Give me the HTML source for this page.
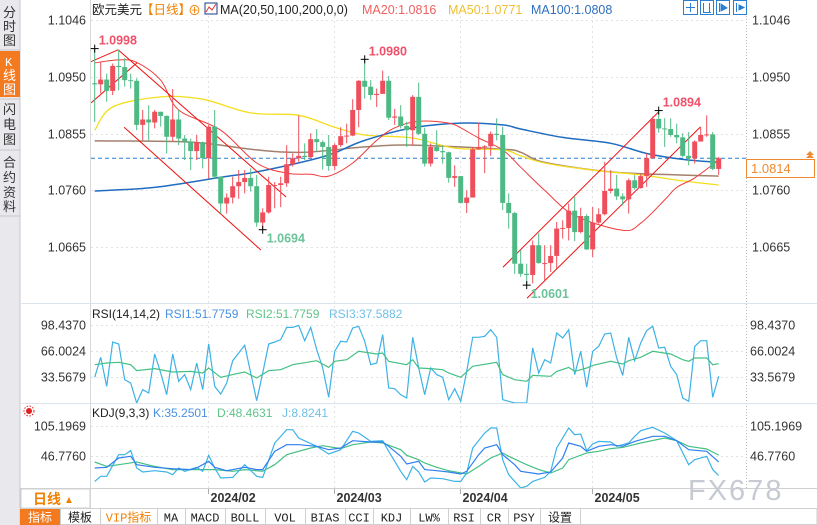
<!DOCTYPE html>
<html><head><meta charset="utf-8">
<style>
html,body{margin:0;padding:0;background:#fff;}
body{width:817px;height:525px;overflow:hidden;position:relative;font-family:"Liberation Sans","Noto Sans CJK SC",sans-serif;}
svg{position:absolute;left:0;top:0;}
text{font-family:"Liberation Sans","Noto Sans CJK SC",sans-serif;}
.mono{font-family:"Liberation Mono","Noto Sans CJK SC",monospace;}
</style></head>
<body>
<svg id="chart" width="817" height="525" viewBox="0 0 817 525" xmlns="http://www.w3.org/2000/svg">
<defs>
<clipPath id="clipPrice"><rect x="91" y="16" width="655" height="287"/></clipPath>
<clipPath id="clipRsi"><rect x="91" y="320" width="655" height="83"/></clipPath>
<clipPath id="clipKdj"><rect x="91" y="418" width="655" height="70"/></clipPath>
</defs>
<!-- sidebar -->
<g>
<rect x="0" y="0" width="20" height="525" fill="#e9e9ed"/>
<line x1="20" y1="0" x2="20" y2="508" stroke="#c8c8cc"/>
<g font-size="13" fill="#333">
<text x="3" y="17">分</text><text x="3" y="31">时</text><text x="3" y="45">图</text></g>
<line x1="0" y1="50" x2="20" y2="50" stroke="#c8c8cc"/>
<g>
<rect x="0" y="51" width="20" height="46" fill="#f47a20"/>
<text x="5" y="66" font-size="12" fill="#fff" class="mono">K</text>
<text x="3" y="80" font-size="13" fill="#fff">线</text><text x="3" y="94" font-size="13" fill="#fff">图</text></g>
<line x1="0" y1="99" x2="20" y2="99" stroke="#c8c8cc"/>
<g font-size="13" fill="#333">
<text x="3" y="114">闪</text><text x="3" y="129">电</text><text x="3" y="144">图</text></g>
<line x1="0" y1="150" x2="20" y2="150" stroke="#c8c8cc"/>
<g font-size="13" fill="#333">
<text x="3" y="167">合</text><text x="3" y="182">约</text><text x="3" y="197">资</text><text x="3" y="211">料</text></g>
<line x1="0" y1="216" x2="20" y2="216" stroke="#c8c8cc"/>
</g>
<!-- frame -->
<line x1="90.5" y1="0" x2="90.5" y2="508" stroke="#d8d8d8"/>
<line x1="746.5" y1="16" x2="746.5" y2="488" stroke="#bbb" stroke-dasharray="1,2"/>
<line x1="20" y1="303.5" x2="817" y2="303.5" stroke="#dde3ea"/>
<line x1="20" y1="403.5" x2="817" y2="403.5" stroke="#dde3ea"/>
<line x1="20" y1="488.5" x2="817" y2="488.5" stroke="#d0d0d0"/>
<g id="grid"></g>
<!-- header -->
<g font-size="12.5">
<text x="92" y="14" fill="#222">欧元美元</text>
<text x="141" y="14" fill="#f08000">【日线】</text>
<text x="188" y="15" fill="#f08000" font-size="13">⊕</text>
<g><rect x="205" y="3" width="12" height="11" fill="#fff" stroke="#1a3a8a"/><polyline points="206,12 209,7 212,10 216,4" fill="none" stroke="#e03030"/></g>
<text x="220" y="14" fill="#222">MA(20,50,100,200,0,0)</text>
<text x="362" y="14" fill="#f06060">MA20:1.0816</text>
<text x="448" y="14" fill="#f0c030">MA50:1.0771</text>
<text x="531" y="14" fill="#2f6fc0">MA100:1.0808</text>
</g>
<g fill="none" stroke="#2a7fd0">
<rect x="683.5" y="0.5" width="14" height="14"/><line x1="690.5" y1="3" x2="690.5" y2="12"/><line x1="686" y1="7.5" x2="695" y2="7.5"/>
<rect x="700.5" y="0.5" width="13" height="14"/><line x1="703.5" y1="3" x2="703.5" y2="12"/><line x1="709.5" y1="3" x2="709.5" y2="12"/><line x1="703" y1="12.5" x2="711" y2="12.5"/>
<rect x="716.5" y="0.5" width="13" height="14"/><line x1="719.5" y1="3" x2="719.5" y2="12"/><polygon points="721,4 727,8 721,11" fill="#2a7fd0"/>
<rect x="733.5" y="0.5" width="13" height="14"/><line x1="736.5" y1="3" x2="736.5" y2="12"/><polygon points="739,5 744,7.5 739,10" fill="#2a7fd0"/>
</g>
<g id="price"></g>
<g id="rsi"></g>
<g id="kdj"></g>
<g id="axes"></g>
<!-- RSI header -->
<g font-size="12">
<text x="92" y="318" fill="#222">RSI(14,14,2)</text>
<text x="165" y="318" fill="#4a90e2">RSI1:51.7759</text>
<text x="246" y="318" fill="#5fc48a">RSI2:51.7759</text>
<text x="329" y="318" fill="#70c0e8">RSI3:37.5882</text>
</g>
<g font-size="12">
<text x="92" y="417" fill="#222">KDJ(9,3,3)</text>
<text x="153" y="417" fill="#4a90e2">K:35.2501</text>
<text x="217" y="417" fill="#5fc48a">D:48.4631</text>
<text x="282" y="417" fill="#70c0e8">J:8.8241</text>
</g>
<g>
<circle cx="29" cy="411" r="3" fill="#e02020"/><circle cx="29" cy="411" r="5" fill="none" stroke="#e02020" stroke-dasharray="1.5,1.5"/>
</g>
<!-- current price -->
<g>
<rect x="746.5" y="159.5" width="68" height="18" fill="#fff" stroke="#f08a30"/>
<text x="751" y="173" font-size="13" fill="#f08a30">1.0814</text>
<polygon points="806,155 810,151 814,155" fill="#f08a30"/><polygon points="806,158 810,154 814,158" fill="#f08a30"/>
</g>
<!-- period -->
<g>
<rect x="21" y="489" width="69" height="19" fill="#fff" stroke="#d0d0d0"/>
<text x="33" y="504" font-size="14" font-weight="bold" fill="#f08000">日线</text>
<text x="64" y="503" font-size="10" fill="#f08000">▲</text>
</g>
<!-- bottom toolbar -->
<g id="toolbar"></g>
<text x="688" y="500" font-size="29" fill="#c5cad3" letter-spacing="2">FX678</text>
</svg>
<script>
// ---------- DATA ----------
const firstOpen = 1.0940;
const closes = [1.0938,1.0946,1.0927,1.0969,1.0967,1.0945,1.0944,1.0870,1.0879,1.0874,1.0892,1.0885,1.0850,1.0879,1.0847,1.0842,1.0826,1.0841,1.0814,1.0867,1.0783,1.0738,1.0748,1.0767,1.0774,1.0781,1.0767,1.0706,1.0723,1.0769,1.0769,1.0772,1.0804,1.0814,1.0818,1.0816,
1.0846,1.0841,1.0833,1.0801,1.0836,1.0851,1.0852,1.0895,1.0944,1.0934,1.0920,1.0922,1.0944,1.0882,1.0884,1.0868,1.0861,1.0917,1.0855,1.0805,1.0833,1.0826,1.0824,1.0781,1.0784,1.0739,1.0748,1.0829,1.0833,1.0834,1.0855,1.0853,1.0739,1.0722,1.0637,
1.0620,1.0618,1.0668,1.0638,1.0638,1.0650,1.0696,1.0697,1.0726,1.0690,1.0717,1.0661,1.0706,1.0720,1.0759,1.0763,1.0750,1.0745,1.0777,1.0764,1.0784,1.0814,1.0880,1.0864,1.0863,1.0853,1.0849,1.0818,1.0814,1.0842,1.0853,1.0854,1.0796,1.0814];
const highs = [1.0998,1.0976,1.0956,1.0973,1.0996,1.0982,1.0956,1.0948,1.0895,1.0903,1.0895,1.0889,1.0886,1.0930,1.0895,1.0853,1.0847,1.0853,1.0842,1.0870,1.0895,1.0783,1.0755,1.0783,1.0794,1.0794,1.0797,1.0786,1.0730,1.0783,1.0774,1.0783,1.0836,1.0822,1.0886,1.0839,
1.0856,1.0863,1.0844,1.0853,1.0839,1.0866,1.0872,1.0913,1.0945,1.0980,1.0945,1.0931,1.0961,1.0952,1.0897,1.0903,1.0875,1.0920,1.0941,1.0865,1.0839,1.0861,1.0836,1.0825,1.0802,1.0783,1.0760,1.0833,1.0874,1.0836,1.0859,1.0881,1.0867,1.0755,1.0724,
1.0660,1.0637,1.0676,1.0688,1.0668,1.0668,1.0707,1.0710,1.0738,1.0749,1.0731,1.0720,1.0732,1.0730,1.0808,1.0794,1.0786,1.0755,1.0780,1.0786,1.0788,1.0822,1.0884,1.0894,1.0881,1.0881,1.0872,1.0856,1.0858,1.0844,1.0867,1.0886,1.0858,1.0816];
const lows = [1.0875,1.0923,1.0909,1.0920,1.0928,1.0934,1.0931,1.0861,1.0844,1.0844,1.0864,1.0867,1.0822,1.0842,1.0836,1.0811,1.0794,1.0811,1.0797,1.0780,1.0780,1.0721,1.0721,1.0738,1.0746,1.0755,1.0758,1.0699,1.0694,1.0721,1.0730,1.0732,1.0766,1.0800,1.0808,1.0811,
1.0814,1.0825,1.0795,1.0793,1.0794,1.0833,1.0839,1.0851,1.0866,1.0914,1.0912,1.0900,1.0922,1.0878,1.0870,1.0864,1.0833,1.0836,1.0853,1.0800,1.0800,1.0825,1.0805,1.0773,1.0766,1.0738,1.0722,1.0760,1.0828,1.0789,1.0818,1.0844,1.0727,1.0696,1.0620,
1.0615,1.0601,1.0604,1.0637,1.0609,1.0623,1.0629,1.0679,1.0676,1.0675,1.0688,1.0660,1.0648,1.0704,1.0718,1.0755,1.0744,1.0735,1.0721,1.0761,1.0763,1.0766,1.0814,1.0857,1.0833,1.0850,1.0839,1.0816,1.0802,1.0805,1.0842,1.0850,1.0794,1.0786];

const ma20Idx = [0,4,7,11,14,21,27,32,36,39,43,47,50,54,59,61,64,68,71,75,80,88,91,95,97,100,104];
const ma20 = [1.0974,1.0979,1.0975,1.0945,1.0895,1.0861,1.0806,1.0789,1.0787,1.0784,1.0806,1.0844,1.0865,1.0876,1.0873,1.0865,1.0848,1.0828,1.0799,1.0760,1.0718,1.0693,1.0705,1.0744,1.0765,1.0781,1.0811];
const ma50Idx = [0,3,11,18,26,34,40,45,53,60,68,71,75,83,91,98,104];
const ma50 = [1.0861,1.0900,1.0917,1.0913,1.0890,1.0886,1.0866,1.0853,1.0848,1.0831,1.0828,1.0818,1.0806,1.0794,1.0786,1.0776,1.0769];
const ma100Idx = [0,10,21,27,36,40,45,53,61,68,71,78,86,92,98,104];
const ma100 = [1.0759,1.0765,1.0782,1.0791,1.0811,1.0823,1.0844,1.0865,1.0873,1.0870,1.0863,1.0849,1.0839,1.0822,1.0812,1.0807];
const ma200Idx = [0,16,27,35,45,53,68,71,75,86,97,104];
const ma200 = [1.0843,1.0841,1.0828,1.0824,1.0833,1.0836,1.0829,1.0824,1.0807,1.0791,1.0786,1.0784];

const lastPrice = 1.0814;
const priceTicks = [1.1046,1.0950,1.0855,1.0760,1.0665];
const priceTickLabels = ["1.1046","1.0950","1.0855","1.0760","1.0665"];
const rsiTicks = [98.437,66.0024,33.5679];
const rsiTickLabels = ["98.4370","66.0024","33.5679"];
const kdjTicks = [105.1969,46.776];
const kdjTickLabels = ["105.1969","46.7760"];
const monthIdx = [19,40,61,83];
const monthLabels = ["2024/02","2024/03","2024/04","2024/05"];

const rsiFast = [33.2,58.1,21.9,77.2,74.7,30.2,26.1,1.1,17.8,13.6,62.3,38.6,11.5,62.3,28.2,36.5,17.8,51.0,17.8,74.7,21.9,12.4,26.1,53.9,63.5,73.1,38.6,4.0,38.6,74.7,77.2,80.1,95.5,95.5,98.0,78.9,95.5,67.7,44.8,8.2,65.6,78.1,77.2,94.7,96.8,78.1,48.9,51.0,86.4,19.9,19.0,11.5,7.4,83.1,44.8,
11.5,44.8,36.5,33.2,5.3,19.0,3.2,40.6,83.1,83.1,84.3,92.6,83.1,5.3,3.2,1.1,1.1,1.1,69.8,38.6,55.2,51.0,88.5,82.2,92.6,36.5,65.6,20.7,65.6,71.8,87.2,88.5,57.3,35.6,83.1,53.9,76.0,91.4,96.8,69.8,70.6,46.9,36.5,7.4,3.2,71.8,78.9,78.9,8.2,34.4];
const rsiSlowIdx = [0,2,4,6,7,10,13,16,18,19,21,23,25,27,29,31,33,37,39,40,42,44,47,48,49,52,53,54,56,58,59,61,63,67,68,70,72,73,76,77,79,80,82,83,86,88,89,91,93,96,98,99,100,102,103,104];
const rsiSlow = [48.9,51.0,51.9,48.9,41.5,44.0,39.8,40.6,38.6,44.8,33.2,36.5,39.8,32.3,41.5,42.7,48.9,53.9,45.6,53.1,55.2,65.6,62.3,63.5,53.1,48.9,55.2,44.8,44.0,42.7,38.6,33.2,46.9,51.9,36.5,30.2,28.2,35.6,34.4,40.6,45.6,40.6,44.8,48.1,53.1,49.8,53.9,58.1,65.6,62.3,55.2,53.1,57.3,57.3,48.9,50.2];

const kIdx = [0,2,4,6,7,10,13,16,17,19,20,22,25,27,28,30,32,34,37,39,41,43,46,48,49,51,52,54,55,57,59,61,62,64,65,67,68,70,71,74,76,78,79,81,82,84,86,88,90,93,95,97,99,102,104];
const kVals = [23.4,24.7,42.9,46.1,29.9,24.7,22.1,20.2,23.4,36.4,24.7,18.2,24.7,20.2,20.2,55.9,68.8,68.8,65.6,59.1,62.4,76.6,74.0,74.0,65.6,46.1,31.2,36.4,20.2,18.2,15.6,11.7,16.9,49.4,62.3,68.8,49.4,29.9,16.9,11.7,15.6,42.9,72.1,65.6,55.9,65.6,68.8,65.6,75.3,85.1,85.1,76.6,59.1,55.9,35.3];
const dIdx = [0,2,4,7,10,13,17,20,23,25,28,30,32,36,38,41,43,46,48,51,52,54,55,57,59,62,64,66,68,69,72,74,76,78,79,82,84,86,88,91,95,97,99,102,104];
const dVals = [35.1,26.6,29.9,35.1,26.6,20.2,20.2,20.2,16.9,20.2,16.9,29.9,49.4,62.4,66.9,61.1,68.8,74.0,72.1,59.1,48.1,39.6,33.1,24.7,18.2,11.7,26.6,42.9,52.6,46.1,29.9,20.2,13.7,23.4,39.6,52.6,55.9,61.1,63.6,72.1,81.8,76.6,65.6,60.4,48.5];
const jIdx = [0,1,2,4,5,6,7,8,10,12,13,14,15,17,18,19,20,21,23,25,27,28,30,32,33,34,37,39,41,43,44,46,48,49,51,52,53,54,55,56,58,60,61,62,63,65,66,67,68,69,71,72,73,75,76,77,79,80,81,82,83,84,86,87,89,90,91,93,95,97,99,100,102,103,104];
const jVals = [-2.6,7.2,7.2,49.4,49.4,57.2,23.4,15.6,18.2,15.6,10.4,23.4,16.9,24.7,16.9,48.1,23.4,3.9,5.2,29.9,7.2,5.2,72.1,98.0,98.0,81.8,65.6,50.7,59.1,94.8,91.6,75.3,76.6,55.9,16.9,0.7,26.6,15.6,-3.9,3.9,2.6,-2.6,-2.6,13.7,62.3,91.6,101.3,101.3,39.6,10.4,-15.5,-12.3,-2.6,5.2,16.9,62.3,101.3,88.3,89.6,57.2,70.1,75.3,74.0,65.6,72.1,85.1,96.1,102.6,91.6,76.6,29.9,39.6,46.1,20.2,8.8];

// trend lines (candle index, price)
const trendLines = [
 [[-1.1,1.0974],[3.9,1.0996]],
 [[-0.6,1.0907],[7.05,1.0974]],
 [[3.9,1.0996],[31.9,1.0749]],
 [[4.9,1.0866],[27.7,1.0660]],
 [[68.05,1.0631],[93.9,1.0891]],
 [[72.05,1.0579],[100.9,1.0866]]
];
const extremes = [
 {i:0, p:1.0998, label:"1.0998", kind:"high"},
 {i:45, p:1.0980, label:"1.0980", kind:"high"},
 {i:28, p:1.0694, label:"1.0694", kind:"low"},
 {i:72, p:1.0601, label:"1.0601", kind:"low"},
 {i:94, p:1.0894, label:"1.0894", kind:"high"}
];
const toolbarItems = ["指标","模板","VIP指标","MA","MACD","BOLL","VOL","BIAS","CCI","KDJ","LW%","RSI","CR","PSY","设置"];

// ---------- AXES ----------
const NS = "http://www.w3.org/2000/svg";
function xOf(i){ return 94.7 + 6*i; }
function yPrice(p){ return 20 + (1.1046 - p)*5958; }
function yRsi(v){ return 325 + (98.437 - v)/1.2475; }
function yKdj(v){ return 426 + (105.1969 - v)/1.9473; }
function mk(tag, attrs, parent){ const e=document.createElementNS(NS,tag); for(const k in attrs) e.setAttribute(k, attrs[k]); parent.appendChild(e); return e; }
function smoothPath(pts){
  if(pts.length<2) return "";
  let d="M"+pts[0][0].toFixed(1)+","+pts[0][1].toFixed(1);
  for(let k=0;k<pts.length-1;k++){
    const p0=pts[k-1]||pts[k], p1=pts[k], p2=pts[k+1], p3=pts[k+2]||p2;
    const c1=[p1[0]+(p2[0]-p0[0])/6, p1[1]+(p2[1]-p0[1])/6];
    const c2=[p2[0]-(p3[0]-p1[0])/6, p2[1]-(p3[1]-p1[1])/6];
    d+=" C"+c1[0].toFixed(1)+","+c1[1].toFixed(1)+" "+c2[0].toFixed(1)+","+c2[1].toFixed(1)+" "+p2[0].toFixed(1)+","+p2[1].toFixed(1);
  }
  return d;
}
function linePath(pts){ return pts.map((p,k)=>(k?"L":"M")+p[0].toFixed(1)+","+p[1].toFixed(1)).join(" "); }

const grid = document.getElementById("grid");
const axes = document.getElementById("axes");
const priceG = document.getElementById("price");
const rsiG = document.getElementById("rsi");
const kdjG = document.getElementById("kdj");

// grid
priceTicks.forEach((t,k)=>{
  const y=Math.round(yPrice(t))+0.5;
  const g=mk("line",{x1:91,y1:y,x2:746,y2:y,stroke:"#e2e2e2","stroke-dasharray":"2,3"},grid);
  
  
  const l=mk("text",{x:86,y:y+4,"font-size":12.5,fill:"#333","text-anchor":"end"},axes);
  l.textContent=priceTickLabels[k];
  
  
  const r=mk("text",{x:752,y:y+4,"font-size":12.5,fill:"#333"},axes);
  r.textContent=priceTickLabels[k];
  
  
});
rsiTicks.forEach((t,k)=>{
  const y=Math.round(yRsi(t))+0.5;
  const g=mk("line",{x1:91,y1:y,x2:746,y2:y,stroke:"#e2e2e2","stroke-dasharray":"2,3"},grid);
  
  
  const l=mk("text",{x:86,y:y+4,"font-size":12.5,fill:"#333","text-anchor":"end"},axes);
  l.textContent=rsiTickLabels[k];
  
  
  const r=mk("text",{x:750,y:y+4,"font-size":12.5,fill:"#333"},axes);
  r.textContent=rsiTickLabels[k];
  
  
});
kdjTicks.forEach((t,k)=>{
  const y=Math.round(yKdj(t))+0.5;
  const g=mk("line",{x1:91,y1:y,x2:746,y2:y,stroke:"#e2e2e2","stroke-dasharray":"2,3"},grid);
  
  
  const l=mk("text",{x:86,y:y+4,"font-size":12.5,fill:"#333","text-anchor":"end"},axes);
  l.textContent=kdjTickLabels[k];
  
  
  const r=mk("text",{x:750,y:y+4,"font-size":12.5,fill:"#333"},axes);
  r.textContent=kdjTickLabels[k];
  
  
});
monthIdx.forEach((mi,k)=>{
  const x=Math.round(xOf(mi)-1)+0.5;
  const g=mk("line",{x1:x,y1:16,x2:x,y2:488,stroke:"#e2e2e2","stroke-dasharray":"2,3"},grid);
  
  
  const tk=mk("line",{x1:x,y1:489,x2:x,y2:494,stroke:"#aaa"},axes);
  
  
  const t=mk("text",{x:x+2,y:502,"font-size":12.5,"font-weight":"bold",fill:"#333"},axes);
  t.textContent=monthLabels[k];
  
  
});

// current price dashed line
const dl=mk("line",{x1:91,y1:yPrice(lastPrice),x2:746,y2:yPrice(lastPrice),stroke:"#2a7fd0","stroke-dasharray":"4,3"},priceG);



// MA lines
const pc = mk("g",{"clip-path":"url(#clipPrice)"},priceG);
function drawMA(idx, vals, color, w, name){
  const n=Math.min(idx.length, vals.length);
  const pts=[]; for(let k=0;k<n;k++) pts.push([xOf(idx[k]), yPrice(vals[k])]);
  const p=mk("path",{d:smoothPath(pts),fill:"none",stroke:color,"stroke-width":w},pc);
  
  
}
drawMA(ma200Idx, ma200, "#a3806c", 1.5, "ma200-line");
drawMA(ma50Idx, ma50, "#f5de1e", 1.3, "ma50-line");
drawMA(ma100Idx, ma100, "#1f6cc0", 1.5, "ma100-line");
drawMA(ma20Idx, ma20, "#f03a3a", 1, "ma20-line");

// trend lines
trendLines.forEach(tl=>{
  const l=mk("line",{x1:xOf(tl[0][0]),y1:yPrice(tl[0][1]),x2:xOf(tl[1][0]),y2:yPrice(tl[1][1]),stroke:"#ee1111","stroke-width":1},pc);
  
  
});

// candles
for(let i=0;i<closes.length;i++){
  const o = i===0 ? firstOpen : closes[i-1];
  const c = closes[i];
  const h = Math.max(highs[i], o, c), lo = Math.min(lows[i], o, c);
  const up = c >= o;
  const col = up ? "#ef4f5c" : "#4fb985";
  const x = xOf(i);
  const g = mk("g",{},pc);
  
  
  mk("line",{x1:x,y1:yPrice(h),x2:x,y2:yPrice(lo),stroke:col,"stroke-width":1},g);
  const yt=yPrice(Math.max(o,c)), yb=yPrice(Math.min(o,c));
  mk("rect",{x:x-2.5,y:yt,width:5,height:Math.max(1,yb-yt),fill:col},g);
}

// extremes
extremes.forEach(e=>{
  const x=xOf(e.i), y=yPrice(e.p);
  const g=mk("g",{},priceG);
  
  
  mk("line",{x1:x-4,y1:y,x2:x+4,y2:y,stroke:"#000"},g);
  mk("line",{x1:x,y1:y-4,x2:x,y2:y+4,stroke:"#000"},g);
  const t=mk("text",{x:x+4, y: e.kind==="high" ? y-4 : y+13, "font-size":12.5,"font-weight":"bold",fill: e.kind==="high" ? "#f05068" : "#6cc29a"},g);
  t.textContent=e.label;
});

// RSI
const rc = mk("g",{"clip-path":"url(#clipRsi)"},rsiG);
{
  const pts=rsiFast.map((v,i)=>[xOf(i), yRsi(v)]);
  const p=mk("path",{d:linePath(pts),fill:"none",stroke:"#3cb2e6","stroke-width":1.2},rc);
  
  
  const n=Math.min(rsiSlowIdx.length,rsiSlow.length);
  const sp=[]; for(let k=0;k<n;k++) sp.push([xOf(rsiSlowIdx[k]), yRsi(rsiSlow[k])]);
  const q=mk("path",{d:linePath(sp),fill:"none",stroke:"#45c084","stroke-width":1.2},rc);
  
  
}
// KDJ
const kc = mk("g",{"clip-path":"url(#clipKdj)"},kdjG);
function drawK(idx, vals, color, name){
  const n=Math.min(idx.length, vals.length);
  const pts=[]; for(let k=0;k<n;k++) pts.push([xOf(idx[k]), yKdj(vals[k])]);
  const p=mk("path",{d:linePath(pts),fill:"none",stroke:color,"stroke-width":1.2},kc);
  
  
}
drawK(dIdx, dVals, "#45c084", "kdj-d-line");
drawK(jIdx, jVals, "#3cb2e6", "kdj-j-line");
drawK(kIdx, kVals, "#2f7ff0", "kdj-k-line");

// toolbar
const tb=document.getElementById("toolbar");
mk("rect",{x:20,y:508.5,width:797,height:16,fill:"#fff",stroke:"#cfcfcf"},tb);
const widths=[40,40,57,28,40,40,40,40,28,37,38,32,28,32,40];
let tx=20;
toolbarItems.forEach((name,k)=>{
  const w=widths[k];
  const g=mk("g",{},tb);
  
  
  if(k===0) mk("rect",{x:tx,y:509,width:w,height:16,fill:"#f47a20"},g);
  mk("line",{x1:tx+w+0.5,y1:509,x2:tx+w+0.5,y2:525,stroke:"#cfcfcf"},g);
  const t=mk("text",{x:tx+w/2,y:521.5,"font-size":12,"text-anchor":"middle",fill: k===0 ? "#fff" : (k===2 ? "#f08000" : "#222"),"class":"mono"},g);
  t.textContent=name;
  tx+=w;
});
</script>
</body></html>
